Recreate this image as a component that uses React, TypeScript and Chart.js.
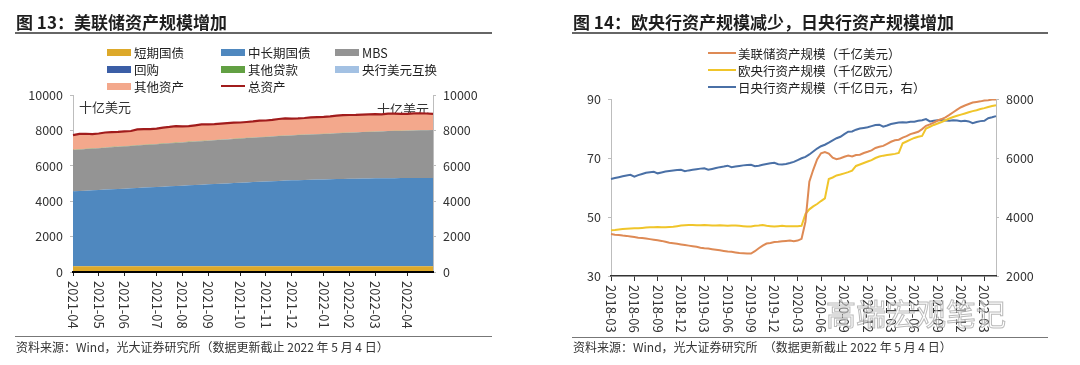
import React, { useEffect, useRef } from 'react';
import { Chart, registerables } from 'chart.js';

Chart.register(...registerables);

const FONT = "'Noto Sans CJK SC', 'Noto Sans', sans-serif";

// ---------------- 图13：美联储资产规模 (weekly, 十亿美元) ----------------
const fedWeeks = [
  '2021-04-07','2021-04-14','2021-04-21','2021-04-28','2021-05-05','2021-05-12','2021-05-19','2021-05-26',
  '2021-06-02','2021-06-09','2021-06-16','2021-06-23','2021-06-30','2021-07-07','2021-07-14','2021-07-21',
  '2021-07-28','2021-08-04','2021-08-11','2021-08-18','2021-08-25','2021-09-01','2021-09-08','2021-09-15',
  '2021-09-22','2021-09-29','2021-10-06','2021-10-13','2021-10-20','2021-10-27','2021-11-03','2021-11-10',
  '2021-11-17','2021-11-24','2021-12-01','2021-12-08','2021-12-15','2021-12-22','2021-12-29','2022-01-05',
  '2022-01-12','2022-01-19','2022-01-26','2022-02-02','2022-02-09','2022-02-16','2022-02-23','2022-03-02',
  '2022-03-09','2022-03-16','2022-03-23','2022-03-30','2022-04-06','2022-04-13','2022-04-20','2022-04-27',
  '2022-05-04'
];
const fedMonthTickLabels = [
  '2021-04','2021-05','2021-06','2021-07','2021-08','2021-09','2021-10',
  '2021-11','2021-12','2022-01','2022-02','2022-03','2022-04'
];
const shortTermTreasuries = [
  326,326,326,326,326,326,326,326,326,326,
  326,326,326,326,326,326,326,326,326,326,
  326,326,326,326,326,326,326,326,326,326,
  326,326,326,326,326,326,326,326,326,326,
  326,326,326,326,326,326,326,326,326,326,
  326,326,326,326,326,326,326
];
const midLongTreasuries = [
  4234,4252,4270,4291,4308,4329,4345,4366,4384,4402,
  4420,4441,4458,4477,4496,4514,4533,4551,4570,4588,
  4607,4625,4645,4662,4681,4699,4718,4736,4755,4773,
  4790,4806,4822,4838,4852,4864,4876,4888,4898,4906,
  4915,4924,4932,4940,4946,4952,4958,4964,4970,4974,
  4977,4980,4982,4984,4985,4986,4986
];
const mbsHoldings = [
  2328,2334,2350,2352,2355,2362,2378,2380,2383,2390,
  2405,2407,2410,2414,2428,2432,2435,2438,2452,2456,
  2459,2462,2476,2480,2484,2487,2490,2505,2509,2512,
  2515,2528,2532,2535,2538,2550,2553,2556,2558,2560,
  2572,2590,2594,2597,2608,2625,2628,2630,2640,2660,
  2664,2666,2672,2690,2698,2700,2707
];
const repoHoldings = [
  0,0,0,0,0,0,0,0,0,0,
  0,0,0,0,0,0,0,0,0,0,
  0,0,0,0,0,0,0,0,0,0,
  0,0,0,0,0,0,0,0,0,0,
  0,0,0,0,0,0,0,0,0,0,
  0,0,0,0,0,0,0
];
const otherLoans = [
  22,22,22,21,21,21,21,20,20,20,
  20,19,19,19,19,18,18,18,18,17,
  17,17,17,16,16,16,16,15,15,15,
  15,15,14,14,14,14,14,13,13,13,
  13,13,12,12,12,12,12,12,11,11,
  11,11,11,10,10,10,10
];
const cbLiquiditySwaps = [
  0.5,0.5,0.5,0.5,0.5,0.5,0.5,0.5,0.5,0.5,
  0.5,0.5,0.5,0.5,0.5,0.5,0.5,0.5,0.5,0.5,
  0.5,0.5,0.5,0.5,0.5,0.5,0.5,0.5,0.5,0.5,
  0.5,0.5,0.5,0.5,0.5,0.5,0.5,0.5,0.5,0.5,
  0.5,0.5,0.5,0.5,0.5,0.5,0.5,0.5,0.5,0.5,
  0.5,0.5,0.5,0.5,0.5,0.5,0.5
];
const otherAssets = [
  825,866,842,805,815,842,835,828,832,827,
  889,882,857,869,891,905,928,897,874,898,
  926,910,886,896,908,912,895,893,905,929,
  914,915,951,962,940,926,931,957,960,955,
  964,977,1001,995,983,980,981,983,963,974,
  972,952,944,950,941,933,906
];
const fedTotalAssets = [
  7735,7800,7810,7795,7825,7880,7905,7920,7945,7965,
  8060,8075,8070,8105,8160,8195,8240,8230,8240,8285,
  8335,8340,8350,8380,8415,8440,8445,8475,8510,8555,
  8560,8590,8645,8675,8670,8680,8700,8740,8755,8760,
  8790,8830,8865,8870,8875,8895,8905,8915,8910,8945,
  8950,8935,8935,8960,8960,8955,8935
];

// ---------------- 图14：三大央行资产规模 (semi-monthly) ----------------
const cbStartYear = 2018;
const cbStartMonth = 3;
const cbMonthCount = 50;
const cbPeriods: string[] = [];
for (let k = 0; k < cbMonthCount; k++) {
  const m0 = cbStartMonth - 1 + k;
  const y = cbStartYear + Math.floor(m0 / 12);
  const mm = String((m0 % 12) + 1).padStart(2, '0');
  cbPeriods.push(`${y}-${mm}-01`, `${y}-${mm}-16`);
}
const cbQuarterTickLabels = [
  '2018-03','2018-06','2018-09','2018-12','2019-03','2019-06','2019-09','2019-12',
  '2020-03','2020-06','2020-09','2020-12','2021-03','2021-06','2021-09','2021-12','2022-03'
];
const fedBalanceSheet = [
  44.2,44.0,43.9,43.7,43.6,43.4,43.2,43.0,42.9,42.7,
  42.5,42.3,42.1,41.9,41.6,41.3,41.1,40.9,40.7,40.5,
  40.3,40.1,39.9,39.6,39.4,39.3,39.1,38.9,38.7,38.5,
  38.3,38.2,38.0,37.8,37.7,37.6,37.6,38.4,39.4,40.3,
  41.0,41.2,41.5,41.6,41.8,41.9,42.0,41.8,42.0,42.6,
  48.4,62.0,66.0,69.5,71.6,72.0,71.5,70.1,69.6,69.9,
  70.4,70.8,70.5,71.0,71.1,71.7,72.1,72.6,73.4,73.8,
  74.1,74.8,75.5,76.0,76.2,76.9,77.4,78.1,78.5,78.9,
  79.8,80.9,81.4,82.0,82.7,83.2,83.8,84.6,85.5,86.4,
  87.2,87.8,88.3,88.8,89.0,89.2,89.5,89.6,89.8,89.8
];
const ecbBalanceSheet = [
  45.5,45.6,45.8,45.9,46.0,46.1,46.2,46.2,46.3,46.4,
  46.5,46.5,46.6,46.5,46.5,46.6,46.7,46.9,47.1,47.2,
  47.3,47.3,47.2,47.2,47.3,47.2,47.1,47.1,47.2,47.1,
  47.0,47.1,47.1,47.0,46.9,46.8,46.8,47.0,47.1,47.3,
  47.0,46.9,46.8,46.9,47.0,46.9,46.9,46.9,46.9,47.0,
  51.0,52.6,53.6,54.4,55.4,56.3,62.9,63.4,64.1,64.4,
  64.8,65.2,65.7,67.3,67.8,68.3,68.8,69.3,70.0,70.5,
  70.8,71.0,71.2,71.4,71.7,75.0,75.6,76.2,76.8,77.2,
  77.5,80.0,80.6,81.2,81.7,82.2,82.8,83.4,83.9,84.3,
  84.7,85.1,85.5,85.9,86.2,86.6,86.9,87.3,87.6,87.9
];
const bojBalanceSheet = [
  5290,5320,5350,5380,5410,5430,5370,5420,5460,5500,
  5520,5530,5480,5510,5540,5560,5580,5590,5600,5550,
  5580,5600,5620,5640,5650,5600,5630,5660,5690,5710,
  5740,5690,5710,5730,5750,5760,5770,5720,5740,5770,
  5800,5820,5840,5790,5780,5800,5830,5870,5930,5990,
  6040,6120,6220,6320,6400,6450,6520,6600,6670,6720,
  6810,6890,6900,6960,7000,7020,7040,7080,7120,7130,
  7060,7100,7150,7180,7200,7210,7200,7230,7230,7260,
  7280,7320,7240,7260,7280,7290,7270,7260,7280,7270,
  7250,7260,7240,7180,7220,7250,7260,7350,7380,7420
];

// ---------------- colours ----------------
const C = {
  bills: '#DDA92A',
  coupons: '#4F88BF',
  mbs: '#949494',
  repo: '#3B5EA6',
  loans: '#7E9A4A',
  swaps: '#A3C1E3',
  other: '#F3A88C',
  total: '#A11C1C',
  fed: '#DE8A55',
  ecb: '#F0C52A',
  boj: '#4A70A6',
};
const legendColors = { loans: '#62A043' };

const fedLegend = [
  { label: '短期国债', color: C.bills, line: false },
  { label: '中长期国债', color: C.coupons, line: false },
  { label: 'MBS', color: C.mbs, line: false },
  { label: '回购', color: C.repo, line: false },
  { label: '其他贷款', color: legendColors.loans, line: false },
  { label: '央行美元互换', color: C.swaps, line: false },
  { label: '其他资产', color: C.other, line: false },
  { label: '总资产', color: C.total, line: true },
];
const cbLegend = [
  { label: '美联储资产规模（千亿美元）', color: C.fed },
  { label: '欧央行资产规模（千亿欧元）', color: C.ecb },
  { label: '日央行资产规模（千亿日元，右）', color: C.boj },
];

function verticalXLabels(labels: string[], idx: number[], offset: number) {
  return {
    id: 'verticalXLabels',
    afterDraw(chart: any) {
      const sc = chart.scales.x;
      const ctx = chart.ctx;
      ctx.save();
      ctx.font = `13px ${FONT}`;
      ctx.fillStyle = '#333';
      ctx.textAlign = 'left';
      ctx.textBaseline = 'middle';
      idx.forEach((v, i) => {
        const x = sc.getPixelForValue(v);
        ctx.save();
        ctx.translate(x, sc.top + offset);
        ctx.rotate(Math.PI / 2);
        ctx.fillText(labels[i], 0, 0);
        ctx.restore();
      });
      ctx.restore();
    },
  };
}

const unitLabels = {
  id: 'unitLabels',
  beforeDatasetsDraw(chart: any) {
    const { ctx, chartArea } = chart;
    ctx.save();
    ctx.font = `13px ${FONT}`;
    ctx.fillStyle = '#333';
    ctx.textBaseline = 'middle';
    ctx.textAlign = 'left';
    ctx.fillText('十亿美元', chartArea.left + 6, chartArea.top + 12);
    ctx.textAlign = 'right';
    ctx.fillText('十亿美元', chartArea.right - 4, chartArea.top + 14);
    ctx.restore();
  },
};

function yAxis(pos: 'left' | 'right', width: number, min: number, max: number, step: number, stacked = false) {
  return {
    position: pos,
    stacked,
    min,
    max,
    afterFit: (s: any) => { s.width = width; },
    ticks: {
      stepSize: step,
      padding: 7,
      color: '#333',
      font: { family: FONT, size: 12.5 },
      callback: (v: any) => String(v),
    },
    grid: { drawOnChartArea: false, drawTicks: true, tickLength: 3, color: '#bdbdbd' },
    border: { display: true, color: '#bdbdbd', width: 1 },
  };
}

function area(label: string, data: number[], color: string, fill: any) {
  return { label, data, backgroundColor: color, borderColor: color, borderWidth: 0, fill, pointRadius: 0, yAxisID: 'y' };
}

function fedConfig(): any {
  const tickIdx = fedMonthTickLabels.map((m) => fedWeeks.findIndex((d) => d.startsWith(m)));
  return {
    type: 'line',
    data: {
      labels: fedWeeks,
      datasets: [
        area('短期国债', shortTermTreasuries, C.bills, 'origin'),
        area('中长期国债', midLongTreasuries, C.coupons, '-1'),
        area('MBS', mbsHoldings, C.mbs, '-1'),
        area('回购', repoHoldings, C.repo, '-1'),
        area('其他贷款', otherLoans, C.loans, '-1'),
        area('央行美元互换', cbLiquiditySwaps, C.swaps, '-1'),
        area('其他资产', otherAssets, C.other, '-1'),
        { label: '总资产', data: fedTotalAssets, borderColor: C.total, backgroundColor: C.total, borderWidth: 2.2, fill: false, pointRadius: 0, yAxisID: 'y1', order: -1 },
      ],
    },
    options: {
      responsive: false,
      animation: false,
      events: [],
      layout: { padding: { top: 95, left: 0, right: 0, bottom: 0 } },
      elements: { line: { tension: 0 } },
      plugins: { legend: { display: false }, tooltip: { enabled: false } },
      scales: {
        x: {
          type: 'category',
          offset: false,
          afterBuildTicks: (s: any) => { s.ticks = tickIdx.map((v) => ({ value: v })); },
          afterFit: (s: any) => { s.height = 93; },
          ticks: { display: false, autoSkip: false },
          grid: { display: true, drawOnChartArea: false, drawTicks: true, tickLength: 4, color: '#222' },
          border: { display: true, color: '#000', width: 2, z: 1 },
        },
        y: yAxis('left', 73, 0, 10000, 2000, true),
        y1: yAxis('right', 107, 0, 10000, 2000, false),
      },
    },
    plugins: [unitLabels, verticalXLabels(fedMonthTickLabels, tickIdx, 9)],
  };
}

function cbConfig(): any {
  const tickIdx = cbQuarterTickLabels.map((q) => cbPeriods.findIndex((d) => d.startsWith(q)));
  const line = (label: string, data: number[], color: string, axis: string) => ({
    label, data, borderColor: color, backgroundColor: color, borderWidth: 2, fill: false, pointRadius: 0, yAxisID: axis,
  });
  return {
    type: 'line',
    data: {
      labels: cbPeriods,
      datasets: [
        line('美联储资产规模（千亿美元）', fedBalanceSheet, C.fed, 'y'),
        line('欧央行资产规模（千亿欧元）', ecbBalanceSheet, C.ecb, 'y'),
        line('日央行资产规模（千亿日元，右）', bojBalanceSheet, C.boj, 'y1'),
      ],
    },
    options: {
      responsive: false,
      animation: false,
      events: [],
      layout: { padding: { top: 99, left: 0, right: 0, bottom: 0 } },
      elements: { line: { tension: 0 } },
      plugins: { legend: { display: false }, tooltip: { enabled: false } },
      scales: {
        x: {
          type: 'category',
          offset: false,
          afterBuildTicks: (s: any) => { s.ticks = tickIdx.map((v) => ({ value: v })); },
          afterFit: (s: any) => { s.height = 89; },
          ticks: { display: false, autoSkip: false },
          grid: { display: true, drawOnChartArea: false, drawTicks: true, tickLength: 5, color: '#333' },
          border: { display: true, color: '#333', width: 1.5, z: 1 },
        },
        y: yAxis('left', 71, 30, 90, 20),
        y1: yAxis('right', 84, 2000, 8000, 2000),
      },
    },
    plugins: [verticalXLabels(cbQuarterTickLabels, tickIdx, 9)],
  };
}

const abs = (s: any): any => ({ position: 'absolute', ...s });

export default function App() {
  const leftRef = useRef<HTMLCanvasElement>(null);
  const rightRef = useRef<HTMLCanvasElement>(null);

  useEffect(() => {
    const c1 = new Chart(leftRef.current as HTMLCanvasElement, fedConfig());
    const c2 = new Chart(rightRef.current as HTMLCanvasElement, cbConfig());
    return () => { c1.destroy(); c2.destroy(); };
  }, []);

  const titleStyle = { fontFamily: FONT, fontSize: 17, fontWeight: 700, color: '#1e1e1e', lineHeight: '17px', whiteSpace: 'nowrap' };
  const srcStyle = { fontFamily: FONT, fontSize: 12, color: '#333', lineHeight: '12px', whiteSpace: 'pre' };

  return (
    <div style={abs({ left: 0, top: 0, width: 1080, height: 365, background: '#fff', overflow: 'hidden', fontFamily: FONT })}>
      <canvas ref={leftRef} width={540} height={365} style={abs({ left: 0, top: 0, width: 540, height: 365 })} />
      <canvas ref={rightRef} width={540} height={365} style={abs({ left: 540, top: 0, width: 540, height: 365 })} />

      {/* left panel texts */}
      <div style={abs({ left: 16, top: 12.5, ...titleStyle })}>图 13：美联储资产规模增加</div>
      <div style={abs({ left: 15, top: 32, width: 477, height: 2, background: '#666' })} />
      <div style={abs({ left: 107, top: 43.5, display: 'grid', gridTemplateColumns: '114px 114px 114px', gridAutoRows: '17px' })}>
        {fedLegend.map((it) => (
          <div key={it.label} style={{ display: 'flex', alignItems: 'center', height: 17 }}>
            <div style={{ width: 24, height: it.line ? 2.5 : 7, background: it.color, marginRight: 3 }} />
            <span style={{ fontSize: 12.5, color: '#222', lineHeight: '17px', whiteSpace: 'nowrap' }}>{it.label}</span>
          </div>
        ))}
      </div>
      <div style={abs({ left: 15, top: 336, width: 477, height: 1, background: '#777' })} />
      <div style={abs({ left: 16, top: 341, ...srcStyle })}>资料来源：Wind，光大证券研究所（数据更新截止 2022 年 5 月 4 日）</div>

      {/* right panel texts */}
      <div style={abs({ left: 573, top: 12.5, ...titleStyle })}>图 14：欧央行资产规模减少，日央行资产规模增加</div>
      <div style={abs({ left: 572, top: 32, width: 476, height: 2, background: '#666' })} />
      <div style={abs({ left: 708, top: 44.5 })}>
        {cbLegend.map((it) => (
          <div key={it.label} style={{ display: 'flex', alignItems: 'center', height: 17 }}>
            <div style={{ width: 28, height: 2.5, background: it.color, marginRight: 2 }} />
            <span style={{ fontSize: 12.5, color: '#222', lineHeight: '17px', whiteSpace: 'nowrap' }}>{it.label}</span>
          </div>
        ))}
      </div>
      <div style={abs({ left: 572, top: 337, width: 476, height: 1, background: '#777' })} />
      <div style={abs({ left: 573, top: 341, ...srcStyle })}>资料来源：Wind，光大证券研究所{'\u3000'}（数据更新截止 2022 年 5 月 4 日）</div>

      {/* watermark */}
      <div style={abs({ left: 826, top: 296, fontFamily: FONT, fontSize: 30, lineHeight: '32px', color: 'rgba(255,255,255,0.55)', WebkitTextStroke: '1px rgba(130,130,130,0.55)', whiteSpace: 'nowrap' })}>高端宏观笔记</div>
    </div>
  );
}
